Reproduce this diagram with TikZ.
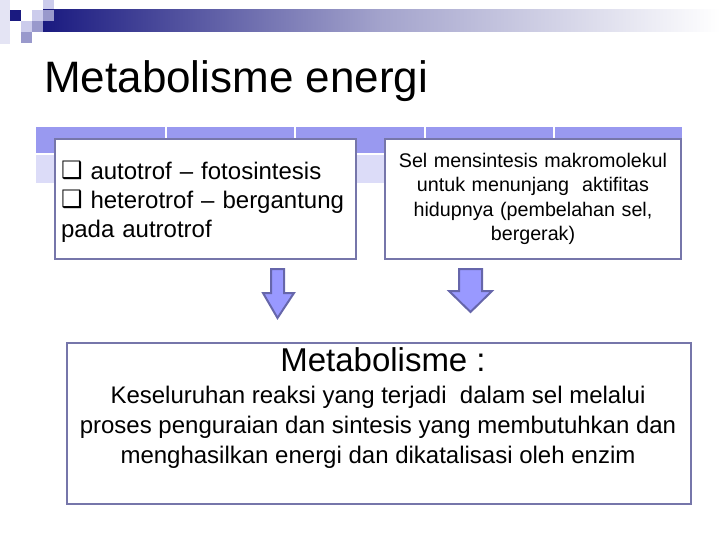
\documentclass[tikz,border=0pt]{standalone}
\usepackage{fontspec}
\setmainfont{Liberation Sans}
\newfontfamily\symfont{DejaVu Sans}
\usetikzlibrary{positioning}
\definecolor{navy}{RGB}{26,26,128}
\definecolor{rowtop}{RGB}{153,153,240}
\definecolor{rowbot}{RGB}{220,220,248}
\definecolor{boxline}{RGB}{118,118,170}
\definecolor{arrfill}{RGB}{153,153,255}
\definecolor{arrline}{RGB}{102,102,170}
\definecolor{sqlight}{RGB}{204,204,236}
\definecolor{sqmid}{RGB}{153,153,204}
\definecolor{sqpale}{RGB}{228,228,244}
\newcommand{\qmark}{{\symfont\char"2751}}
\tikzset{
  textbox/.style={draw=boxline, line width=2pt, fill=white, inner sep=6pt},
  blockarrow/.style={draw=arrline, line width=2pt, fill=arrfill, line join=miter},
}
\begin{document}
\begin{tikzpicture}[x=1pt,y=-1pt]
\useasboundingbox (0,0) rectangle (720,540);
% top-left decoration
\fill[sqpale] (0,0) rectangle (10,44);
\fill[navy] (10,10) rectangle (21,21);
\fill[sqlight] (43,0) rectangle (54,10);
\fill[sqlight] (32,10) rectangle (43,21);
\fill[sqlight] (21,21) rectangle (32,32);
\fill[sqmid] (32,21) rectangle (43,32);
\fill[sqmid] (21,32) rectangle (32,43);
\shade[left color=navy, right color=white, middle color=navy!40!white] (43,10) rectangle (720,32);
\fill[sqmid] (43,10) rectangle (54,21);
% title
\node[anchor=base west, font=\fontsize{44}{50}\selectfont, inner sep=0pt] (title) at (44,93) {Metabolisme energi};
% background table
\fill[rowtop] (36,127) rectangle (682,153);
\fill[rowbot] (36,155) rectangle (682,183);
\foreach \x in {166,295,425,554} \fill[white] (\x-1,127) rectangle (\x+1,183);
% boxes
\node[textbox, anchor=north west, minimum width=301pt, minimum height=120pt, text width=289pt, align=left,
  font=\fontsize{24}{29}\selectfont] (lbox) at (54,138)
  {\rule{0pt}{24pt}\raisebox{1pt}{\qmark}\ autotrof -- fotosintesis\\\raisebox{1pt}{\qmark}\ heterotrof -- bergantung\\pada autrotrof};
\node[textbox, anchor=north west, minimum width=296pt, minimum height=120pt, text width=284pt, align=center,
  font=\fontsize{19.7}{24.5}\selectfont] (rbox) at (384,138)
  {Sel mensintesis makromolekul\\untuk menunjang\ \ aktifitas\\hidupnya (pembelahan sel,\\bergerak)};
\node[textbox, anchor=north west, minimum width=624pt, minimum height=161pt] (bbox) at (66,342) {};
\node[anchor=base, font=\fontsize{33}{36}\selectfont, inner sep=0pt] (btitle) at (383,371) {Metabolisme :};
\node[anchor=north, align=center, font=\fontsize{24}{30}\selectfont, inner sep=0pt] (btext) at (378,386)
  {Keseluruhan reaksi yang terjadi\ \ dalam sel melalui\\proses penguraian dan sintesis yang membutuhkan dan\\menghasilkan energi dan dikatalisasi oleh enzim};
% block arrows
\draw[blockarrow] (271,269) -- (284,269) -- (284,293) -- (294,293) -- (277.5,318) -- (263,293) -- (271,293) -- cycle;
\draw[blockarrow] (459,269) -- (482,269) -- (482,291) -- (492,291) -- (470.5,312) -- (449,291) -- (459,291) -- cycle;
\end{tikzpicture}
\end{document}
